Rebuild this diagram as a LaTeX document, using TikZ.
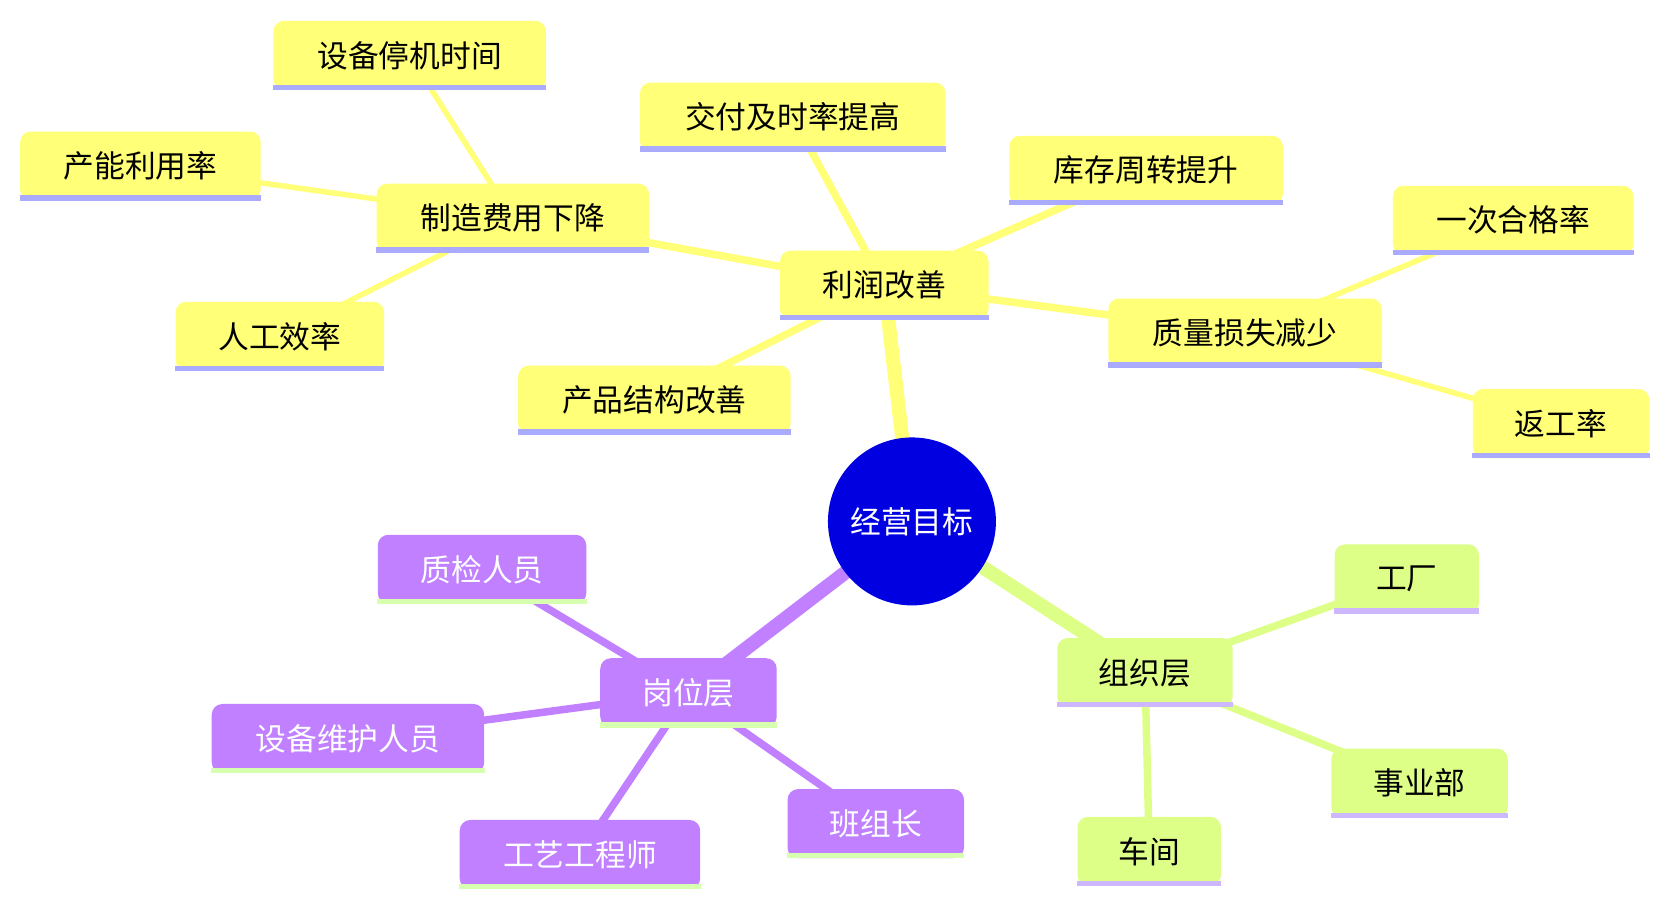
\documentclass[tikz,border=0pt]{standalone}
\usepackage{fontspec}
\setmainfont{Noto Sans CJK SC}
\usetikzlibrary{backgrounds}
\definecolor{rootblue}{HTML}{0000E0}
\definecolor{ylw}{HTML}{FFFF78}
\definecolor{ylwbar}{HTML}{AAAAFF}
\definecolor{grn}{HTML}{DDFF88}
\definecolor{grnbar}{HTML}{CDB8FF}
\definecolor{prp}{HTML}{C080FF}
\definecolor{prpbar}{HTML}{D6FFB0}
\tikzset{
  box/.style={rounded corners=6pt, inner sep=0pt, minimum height=1.38cm,
    font=\fontsize{17.5}{20}\selectfont},
  ybox/.style={box, fill=ylw, text=black},
  gbox/.style={box, fill=grn, text=black},
  pbox/.style={box, fill=prp, text=white},
}
\begin{document}
\begin{tikzpicture}[x=0.02128cm,y=-0.02128cm]
\useasboundingbox (0,0) rectangle (1560,849);
% root
\node[circle, fill=rootblue, text=white, minimum size=3.36cm, inner sep=0pt,
  font=\fontsize{17.5}{20}\selectfont] (root) at (857,490) {经营目标};
% profit branch
\node[ybox, minimum width=4.17cm] (profit) at (831,268) {利润改善};
\node[ybox, minimum width=5.45cm] (cost) at (482,205) {制造费用下降};
\node[ybox, minimum width=5.45cm] (downtime) at (385,52) {设备停机时间};
\node[ybox, minimum width=4.81cm] (capacity) at (132,156) {产能利用率};
\node[ybox, minimum width=4.17cm] (labor) at (263,316) {人工效率};
\node[ybox, minimum width=5.45cm] (mix) at (615,376) {产品结构改善};
\node[ybox, minimum width=6.11cm] (delivery) at (745,110) {交付及时率提高};
\node[ybox, minimum width=5.47cm] (stock) at (1077,160) {库存周转提升};
\node[ybox, minimum width=5.47cm] (quality) at (1170,313) {质量损失减少};
\node[ybox, minimum width=4.81cm] (firstpass) at (1422,207) {一次合格率};
\node[ybox, minimum width=3.53cm] (rework) at (1467,398) {返工率};
% organisation branch
\node[gbox, minimum width=3.51cm] (org) at (1076,632) {组织层};
\node[gbox, minimum width=2.89cm] (plant) at (1322,544) {工厂};
\node[gbox, minimum width=3.53cm] (division) at (1334,736) {事业部};
\node[gbox, minimum width=2.87cm] (shop) at (1080,800) {车间};
% position branch
\node[pbox, minimum width=3.53cm] (post) at (647,651) {岗位层};
\node[pbox, minimum width=4.17cm] (inspector) at (453,535) {质检人员};
\node[pbox, minimum width=5.45cm] (maint) at (327,694) {设备维护人员};
\node[pbox, minimum width=4.81cm] (engineer) at (545,803) {工艺工程师};
\node[pbox, minimum width=3.53cm] (leader) at (823,774) {班组长};
% bottom bars
\foreach \n in {profit,cost,downtime,capacity,labor,mix,delivery,stock,quality,firstpass,rework}
  \fill[ylwbar] (\n.south west) rectangle ([yshift=0.11cm]\n.south east);
\foreach \n in {org,plant,division,shop}
  \fill[grnbar] (\n.south west) rectangle ([yshift=0.11cm]\n.south east);
\foreach \n in {post,inspector,maint,engineer,leader}
  \fill[prpbar] (\n.south west) rectangle ([yshift=0.11cm]\n.south east);
% connectors
\begin{pgfonlayer}{background}
\draw[ylw, line width=0.28cm] (root.center) -- (profit.center);
\draw[grn, line width=0.28cm] (root.center) -- (org.center);
\draw[prp, line width=0.28cm] (root.center) -- (post.center);
\foreach \n in {cost,mix,delivery,stock,quality}
  \draw[ylw, line width=0.15cm] (profit.center) -- (\n.center);
\foreach \n in {downtime,capacity,labor}
  \draw[ylw, line width=0.11cm] (cost.center) -- (\n.center);
\foreach \n in {firstpass,rework}
  \draw[ylw, line width=0.11cm] (quality.center) -- (\n.center);
\foreach \n in {plant,division,shop}
  \draw[grn, line width=0.15cm] (org.center) -- (\n.center);
\foreach \n in {inspector,maint,engineer,leader}
  \draw[prp, line width=0.15cm] (post.center) -- (\n.center);
\end{pgfonlayer}
\end{tikzpicture}
\end{document}
